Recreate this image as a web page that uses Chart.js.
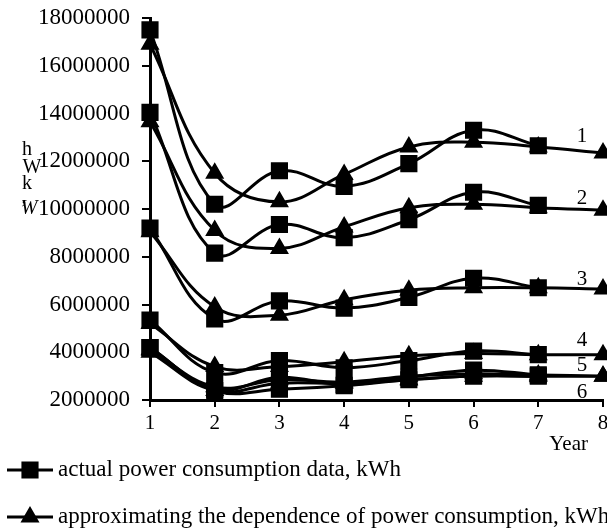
<!DOCTYPE html>
<html>
<head>
<meta charset="utf-8">
<script src="https://cdn.jsdelivr.net/npm/chart.js@4"></script>
<style>
  html, body { margin: 0; padding: 0; background: #fff; }
  canvas { display: block; }
</style>
</head>
<body>
<canvas id="chart" width="607" height="528"></canvas>
<script>
const years = ['1', '2', '3', '4', '5', '6', '7', '8'];

// actual power consumption (squares), kWh
const actual1 = [17500000, 10200000, 11600000, 10950000, 11900000, 13300000, 12650000];
const actual2 = [14050000, 8150000, 9350000, 8800000, 9550000, 10700000, 10150000];
const actual3 = [9200000, 5400000, 6150000, 5850000, 6300000, 7100000, 6700000];
const actual4 = [5350000, 3150000, 3650000, 3350000, 3650000, 4050000, 3900000];
const actual5 = [4200000, 2450000, 2950000, 2650000, 2950000, 3250000, 3050000];
const actual6 = [4200000, 2400000, 2450000, 2600000, 2850000, 3000000, 3000000];

// approximating dependence (triangles), kWh
const approx1 = [16900000, 11500000, 10300000, 11450000, 12600000, 12800000, 12600000, 12350000];
const approx2 = [13650000, 9100000, 8350000, 9250000, 10050000, 10200000, 10050000, 9950000];
const approx3 = [9050000, 5900000, 5550000, 6200000, 6600000, 6700000, 6700000, 6650000];
const approx4 = [5200000, 3400000, 3400000, 3600000, 3850000, 3950000, 3900000, 3900000];
const approx5 = [4100000, 2550000, 2850000, 2750000, 3000000, 3100000, 3050000, 3000000];
const approx6 = [4000000, 2400000, 2700000, 2700000, 2850000, 3000000, 3000000, 3000000];

const curveLabels = ['1', '2', '3', '4', '5', '6'];
const legendLabels = [
  'actual power consumption data, kWh',
  'approximating the dependence of power consumption, kWh'
];

const serif = '"Liberation Serif", "Times New Roman", serif';

const actualSet = [actual1, actual2, actual3, actual4, actual5, actual6];
const approxSet = [approx1, approx2, approx3, approx4, approx5, approx6];

function lineSet(data, style, radius) {
  return {
    data: data,
    borderColor: '#000',
    backgroundColor: '#000',
    borderWidth: 3,
    pointStyle: style,
    pointRadius: radius,
    pointHoverRadius: radius,
    tension: 0.4,
    clip: false
  };
}

const datasets = [];
actualSet.forEach((d) => datasets.push(lineSet(d, 'rect', 10)));
approxSet.forEach((d) => datasets.push(lineSet(d, 'triangle', 8)));

const annotations = {
  id: 'annotations',
  afterDraw(chart) {
    const ctx = chart.ctx;
    const x = chart.scales.x;
    const y = chart.scales.y;
    ctx.save();
    ctx.fillStyle = '#000';
    ctx.font = '21px ' + serif;
    ctx.textAlign = 'center';
    ctx.textBaseline = 'middle';

    // curve numbers next to the last point
    const offsets = [-16, -12, -9, -14, -11, 16];
    curveLabels.forEach((lbl, i) => {
      const last = approxSet[i][approxSet[i].length - 1];
      ctx.fillText(lbl, x.right - 21, y.getPixelForValue(last) + offsets[i]);
    });

    // axis titles
    ctx.textAlign = 'right';
    ctx.fillText('Year', x.right - 15, 444);

    ctx.textAlign = 'center';
    ctx.font = '20px ' + serif;
    ctx.fillText('h', 27, 150);
    ctx.fillText('W', 32, 168);
    ctx.fillText('k', 27, 184);
    ctx.fillText(',', 24, 198);
    ctx.font = 'italic 20px ' + serif;
    ctx.fillText('W', 29, 209);

    // legend
    const rows = [470, 517];
    const styles = ['rect', 'triangle'];
    rows.forEach((ry, i) => {
      ctx.strokeStyle = '#000';
      ctx.lineWidth = 3;
      ctx.beginPath();
      ctx.moveTo(7, ry);
      ctx.lineTo(53, ry);
      ctx.stroke();
      Chart.helpers.drawPoint(ctx, { pointStyle: styles[i], radius: i ? 8 : 10, borderWidth: 1 }, 30, ry);
      ctx.font = '23px ' + serif;
      ctx.textAlign = 'left';
      ctx.fillText(legendLabels[i], 58, ry);
    });
    ctx.restore();
  }
};

new Chart(document.getElementById('chart').getContext('2d'), {
  type: 'line',
  data: { labels: years, datasets: datasets },
  options: {
    responsive: false,
    animation: false,
    layout: { autoPadding: false, padding: { top: 18, right: 4, left: 0, bottom: 0 } },
    plugins: {
      legend: { display: false },
      tooltip: { enabled: false }
    },
    scales: {
      x: {
        offset: false,
        grid: { drawOnChartArea: false, drawTicks: true, tickLength: 7, color: '#000', lineWidth: 2 },
        border: { color: '#000', width: 3 },
        ticks: { color: '#000', padding: 4, maxRotation: 0, font: { family: serif, size: 21 } },
        afterFit: (scale) => {
          scale.height = 128;
          scale.paddingLeft = 0;
          scale.paddingRight = 0;
        }
      },
      y: {
        min: 2000000,
        max: 18000000,
        grid: { drawOnChartArea: false, drawTicks: true, tickLength: 8, color: '#000', lineWidth: 2 },
        border: { color: '#000', width: 3 },
        ticks: {
          stepSize: 2000000,
          color: '#000',
          padding: 12,
          font: { family: serif, size: 23 },
          callback: (v) => String(v)
        },
        afterFit: (scale) => {
          scale.width = 150;
          scale.paddingTop = 0;
          scale.paddingBottom = 0;
        }
      }
    }
  },
  plugins: [annotations]
});
</script>
</body>
</html>
